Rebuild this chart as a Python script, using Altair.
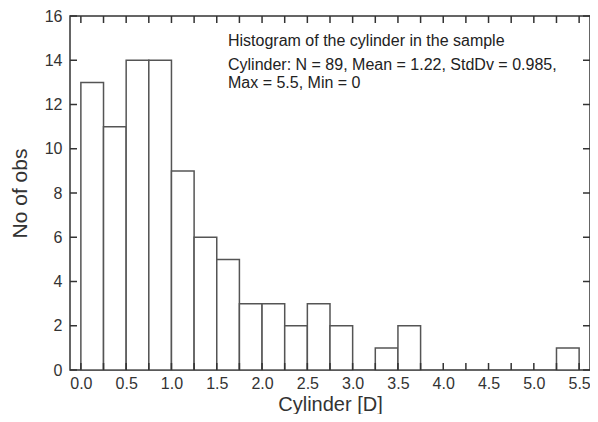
import altair as alt
import pandas as pd

# Histogram data (bins of width 0.25 D)
bin_start = [0.0, 0.25, 0.5, 0.75, 1.0, 1.25, 1.5, 1.75, 2.0, 2.25, 2.5, 2.75,
             3.0, 3.25, 3.5, 3.75, 4.0, 4.25, 4.5, 4.75, 5.0, 5.25]
counts = [13, 11, 14, 14, 9, 6, 5, 3, 3, 2, 3, 2,
          0, 1, 2, 0, 0, 0, 0, 0, 0, 1]
bin_width = 0.25

x_ticks = [i * 0.25 for i in range(23)]
x_labels = [i * 0.5 for i in range(12)]
y_ticks = [0, 2, 4, 6, 8, 10, 12, 14, 16]

note_lines = [
    "Histogram of the cylinder in the sample",
    "Cylinder: N = 89, Mean = 1.22, StdDv = 0.985,",
    "Max = 5.5, Min = 0",
]

W, H = 520, 354
FONT = "Liberation Sans"
INK = "#333333"

df = pd.DataFrame({"start": bin_start, "count": counts})
df["end"] = df["start"] + bin_width
df["base"] = 0
df = df[df["count"] > 0]

xscale = alt.Scale(domain=[-0.12, 5.62], nice=False, zero=False)
yscale = alt.Scale(domain=[0, 16], nice=False)

bars = alt.Chart(df).mark_bar(fill="white", stroke="#555555", strokeWidth=1.5).encode(
    x=alt.X("start:Q", scale=xscale,
            axis=alt.Axis(values=x_labels, format=".1f", ticks=False, domain=False,
                          grid=False, labelPadding=5, labelFontSize=16,
                          labelColor=INK, labelFont=FONT,
                          title="Cylinder [D]", titleFontSize=20,
                          titleFontWeight="normal", titleColor=INK, titleFont=FONT,
                          titleY=34, titleBaseline="middle")),
    x2="end:Q",
    y=alt.Y("count:Q", scale=yscale,
            axis=alt.Axis(values=y_ticks, ticks=False, domain=False, grid=False,
                          labelPadding=8, labelFontSize=16, labelColor=INK,
                          labelFont=FONT, title="No of obs", titleFontSize=21,
                          titleFontWeight="normal", titleColor=INK, titleFont=FONT,
                          titlePadding=14)),
    y2="base:Q",
)

xt = pd.DataFrame({"v": x_ticks})
yt = pd.DataFrame({"v": y_ticks})

tick_style = dict(color=INK, strokeWidth=1.5)
bottom_ticks = alt.Chart(xt).mark_rule(**tick_style).encode(
    x=alt.X("v:Q", scale=xscale), y=alt.value(H), y2=alt.value(H - 7))
top_ticks = alt.Chart(xt).mark_rule(**tick_style).encode(
    x=alt.X("v:Q", scale=xscale), y=alt.value(0), y2=alt.value(7))
left_ticks = alt.Chart(yt).mark_rule(**tick_style).encode(
    y=alt.Y("v:Q", scale=yscale), x=alt.value(0), x2=alt.value(7))
right_ticks = alt.Chart(yt).mark_rule(**tick_style).encode(
    y=alt.Y("v:Q", scale=yscale), x=alt.value(W), x2=alt.value(W - 7))

notes = alt.Chart(pd.DataFrame({"t": note_lines, "i": [0, 1, 2]})).transform_calculate(
    ypos="datum.i == 0 ? 25 : (datum.i == 1 ? 49 : 67)"
).mark_text(align="left", baseline="middle", font=FONT, fontSize=16, color="#222222").encode(
    text="t:N", x=alt.value(158), y=alt.Y("ypos:Q", scale=None))

chart = alt.layer(bars, bottom_ticks, top_ticks, left_ticks, right_ticks, notes).properties(
    width=W, height=H,
    autosize=alt.AutoSizeParams(type="none"),
    padding={"left": 62, "top": 8, "right": 0, "bottom": 44},
).configure_view(stroke=INK, strokeWidth=1.5)

chart.save("out.html", embed_options={"renderer": "svg", "actions": False})
